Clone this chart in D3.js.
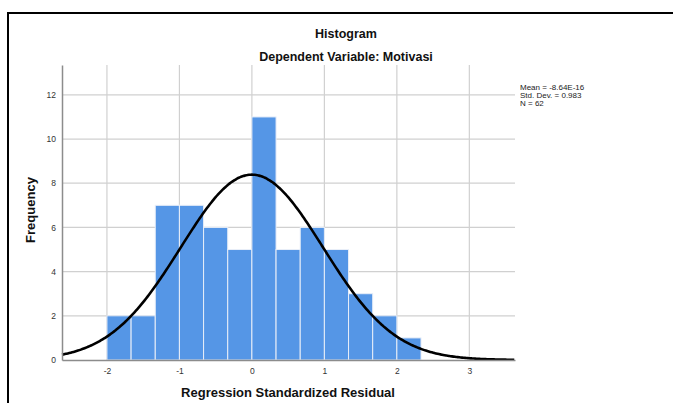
<!DOCTYPE html>
<html>
<head>
<meta charset="utf-8">
<script src="https://cdn.jsdelivr.net/npm/d3@7"></script>
<style>
body{margin:0;background:#fff;}
text{font-family:"Liberation Sans",Arial,sans-serif;}
</style>
</head>
<body>
<div class="container"></div>
<script>
// bins of the residual histogram (width 1/3)
var binStarts=[-2,-5/3,-4/3,-1,-2/3,-1/3,0,1/3,2/3,1,4/3,5/3,2];
var counts=[2,2,7,7,6,5,11,5,6,5,3,2,1];
var binWidth=1/3;
var xTicks=[-2,-1,0,1,2,3];
var yTicks=[0,2,4,6,8,10,12];
var stats=["Mean = -8.64E-16","Std. Dev. = 0.983","N = 62"];
var mean=-8.64e-16, sd=0.983, n=62;

var w=673, h=403;
var svg=d3.select(".container")
  .append("svg")
  .attr("width",w)
  .attr("height",h);

// outer frame
svg.append("path")
  .attr("d","M8,"+h+" L8,13 L"+w+",13")
  .attr("fill","none")
  .attr("stroke","#000")
  .attr("stroke-width",2);

var x=d3.scaleLinear().domain([-2.62,3.63]).range([62,515]);
var y=d3.scaleLinear().domain([0,13.35]).range([360,65]);

// grid
svg.append("g").selectAll("line")
  .data(yTicks.slice(1))
  .enter().append("line")
  .attr("x1",x.range()[0]).attr("x2",x.range()[1])
  .attr("y1",function(d){return y(d);}).attr("y2",function(d){return y(d);})
  .attr("stroke","#d0d0d0").attr("stroke-width",1.2);
svg.append("g").selectAll("line")
  .data(xTicks)
  .enter().append("line")
  .attr("x1",function(d){return x(d);}).attr("x2",function(d){return x(d);})
  .attr("y1",y.range()[1]).attr("y2",y.range()[0])
  .attr("stroke","#d0d0d0").attr("stroke-width",1.2);

// bars
svg.append("g").selectAll("rect")
  .data(counts)
  .enter().append("rect")
  .attr("x",function(d,i){return x(binStarts[i]);})
  .attr("y",function(d){return y(d);})
  .attr("width",function(d,i){return x(binStarts[i]+binWidth)-x(binStarts[i]);})
  .attr("height",function(d){return y(0)-y(d);})
  .attr("fill","#5596e6")
  .attr("stroke","#e8eef8")
  .attr("stroke-width",1);

// normal curve
var scale=n*binWidth;
var pts=d3.range(x.domain()[0],x.domain()[1]+0.001,0.02);
var line=d3.line()
  .x(function(d){return x(d);})
  .y(function(d){return y(scale*Math.exp(-0.5*Math.pow((d-mean)/sd,2))/(sd*Math.sqrt(2*Math.PI)));})
  .curve(d3.curveBasis);
svg.append("path")
  .datum(pts)
  .attr("d",line)
  .attr("fill","none")
  .attr("stroke","#000")
  .attr("stroke-width",2.6);

// axes
var xAxis=d3.axisBottom(x).tickValues(xTicks).tickSize(0).tickPadding(8).tickFormat(function(d){return String(d);});
var yAxis=d3.axisLeft(y).tickValues(yTicks).tickSize(0).tickPadding(6).tickFormat(function(d){return String(d);});
var gx=svg.append("g").attr("transform","translate(0,360)").call(xAxis);
var gy=svg.append("g").attr("transform","translate(62,0)").call(yAxis);
[gx,gy].forEach(function(g){
  g.select(".domain").attr("stroke","#8c8c8c").attr("stroke-width",1.5);
  g.selectAll("text").attr("font-size","8.5px").attr("fill","#333")
    .attr("font-family","'Liberation Sans',Arial,sans-serif");
});
gy.selectAll("text").attr("dy","0.32em");

// titles
svg.append("text").attr("x",346).attr("y",38).attr("text-anchor","middle")
  .attr("font-size","12.5px").attr("font-weight","bold").attr("fill","#111").text("Histogram");
svg.append("text").attr("x",346).attr("y",61).attr("text-anchor","middle")
  .attr("font-size","12.5px").attr("font-weight","bold").attr("fill","#111").text("Dependent Variable: Motivasi");
svg.append("text").attr("x",288).attr("y",397).attr("text-anchor","middle")
  .attr("font-size","13px").attr("font-weight","bold").attr("fill","#111").text("Regression Standardized Residual");
svg.append("text").attr("transform","translate(35,210) rotate(-90)").attr("text-anchor","middle")
  .attr("font-size","13px").attr("font-weight","bold").attr("fill","#111").text("Frequency");

// stats legend
svg.append("g").selectAll("text")
  .data(stats)
  .enter().append("text")
  .attr("x",520)
  .attr("y",function(d,i){return 90+i*8;})
  .attr("font-size","8px")
  .attr("fill","#222")
  .text(function(d){return d;});
</script>
</body>
</html>
